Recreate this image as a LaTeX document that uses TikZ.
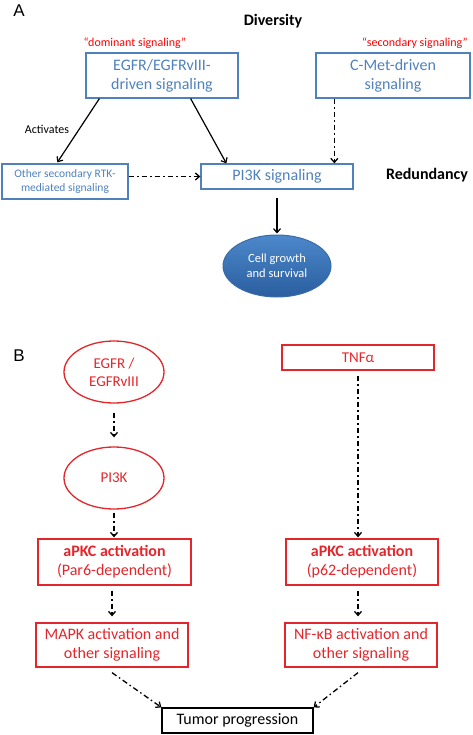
\documentclass[tikz,border=0pt]{standalone}
\usepackage{fontspec}
\setmainfont{Carlito}
\newfontfamily\arialfont{Liberation Sans}
\usetikzlibrary{arrows.meta,calc,shapes.geometric}
\definecolor{boxblue}{HTML}{4F81BD}
\definecolor{boxred}{HTML}{E3262B}
\definecolor{lblred}{HTML}{FF0000}
\definecolor{elltop}{HTML}{4C88CB}
\definecolor{ellbot}{HTML}{2A5E9F}
\definecolor{ellline}{HTML}{3A6BA8}
\tikzset{
  fs/.style 2 args={font=\fontsize{#1}{#2}\selectfont},
  bluebox/.style={draw=boxblue,line width=1.3pt,text=boxblue,align=center,inner sep=0pt,minimum width=#1},
  redbox/.style={draw=boxred,line width=1.3pt,text=boxred,align=center,inner sep=0pt,minimum width=#1},
  redell/.style={ellipse,draw=boxred,line width=1.3pt,text=boxred,align=center,inner sep=0pt,minimum width=100pt,minimum height=62pt},
  solidarr/.style={line width=1.2pt,-{Straight Barb[length=4pt,width=7pt]}},
  dasharr/.style={line width=1.3pt,dash pattern=on 5.5pt off 3pt on 1.5pt off 3pt,-{Straight Barb[length=4pt,width=7pt]}},
  panel/.style={font=\arialfont\fontsize{17}{20}\selectfont},
  heading/.style={font=\bfseries\fontsize{16}{19}\selectfont},
  quote/.style={text=lblred,font=\fontsize{12}{14}\selectfont},
}
\begin{document}
\begin{tikzpicture}[x=1pt,y=-1pt]
\useasboundingbox (0,0) rectangle (472,735);
% Panel A
\node[panel] (labA) at (19,11) {A};
\node[heading] (div) at (273,21) {Diversity};
\node[quote] (dom) at (135,43) {“dominant signaling”};
\node[quote] (sec) at (415,43) {“secondary signaling”};
\node[bluebox=152pt,minimum height=45pt,fs={16}{19}] (egfr) at (162,75.5) {EGFR/EGFRvIII-\\driven signaling};
\node[bluebox=154pt,minimum height=45pt,fs={16}{19}] (cmet) at (393,75.5) {C-Met-driven\\signaling};
\node[bluebox=126pt,minimum height=35pt,fs={11.5}{14}] (other) at (65,181.5) {Other secondary RTK-\\mediated signaling};
\node[bluebox=152pt,minimum height=25pt,fs={16}{19}] (pik) at (277,176.5) {PI3K signaling};
\node[heading] (red) at (427,175) {Redundancy};
\node[fs={12}{14}] (act) at (47,129) {Activates};
\node[ellipse,draw=ellline,line width=1pt,top color=elltop,bottom color=ellbot,text=white,align=center,minimum width=108pt,minimum height=62pt,inner sep=0pt,fs={12.5}{15}] (cell) at (277,266) {Cell growth\\and survival};
\coordinate (cmetout) at ($(cmet.south west)+(19,0)$);
\coordinate (cmetin) at (cmetout |- pik.north);
\draw[solidarr] ($(egfr.south west)+(14,0)$) -- ($(other.north west)+(56,-1)$);
\draw[solidarr] ($(egfr.south east)+(-48,0)$) -- ($(pik.north west)+(26,0)$);
\draw[dasharr] (cmetout) -- (cmetin);
\draw[dasharr] (other.east |- pik.west) -- (pik.west);
\draw[solidarr,shorten <=8pt,shorten >=1pt] (pik.south) -- (cell.north);
% Panel B
\node[panel] (labB) at (19,356) {B};
\node[redell,fs={15}{18}] (egfrb) at (114,372) {EGFR /\\EGFRvIII};
\node[redell,fs={15}{18}] (pikb) at (114,478) {PI3K};
\node[redbox=152pt,minimum height=25pt,fs={15}{18}] (tnf) at (358,357.5) {TNFα};
\node[redbox=153pt,minimum height=46pt,fs={16}{19}] (apkca) at (114.5,562) {\textbf{aPKC activation}\\(Par6-dependent)};
\node[redbox=152pt,minimum height=46pt,fs={16}{19}] (apkcb) at (362,562) {\textbf{aPKC activation}\\(p62-dependent)};
\node[redbox=152pt,minimum height=44pt,fs={16}{19}] (mapk) at (112,645) {MAPK activation and\\other signaling};
\node[redbox=152pt,minimum height=44pt,fs={16}{19}] (nfkb) at (361,645) {NF-κB activation and\\other signaling};
\node[draw=black,line width=1.3pt,minimum width=151pt,minimum height=25pt,inner sep=0pt,fs={16}{19}] (tumor) at (237.5,720.5) {Tumor progression};
\coordinate (nfout) at ($(tnf.south |- nfkb.south)+(0,5)$);
\draw[dasharr,shorten <=9pt,shorten >=9pt] (egfrb.south) -- (pikb.north);
\draw[dasharr,shorten <=3pt,shorten >=1pt] (pikb.south) -- (pikb.south |- apkca.north);
\draw[dasharr,shorten <=5pt,shorten >=1pt] (tnf.south) -- (tnf.south |- apkcb.north);
\draw[dasharr,shorten <=5pt,shorten >=6pt] (mapk.north |- apkca.south) -- (mapk.north);
\draw[dasharr,shorten <=5pt,shorten >=6pt] (tnf.south |- apkcb.south) -- (tnf.south |- nfkb.north);
\draw[dasharr] ($(mapk.south)+(0,5)$) -- (tumor.north west);
\draw[dasharr] (nfout) -- (tumor.north east);
\end{tikzpicture}
\end{document}
